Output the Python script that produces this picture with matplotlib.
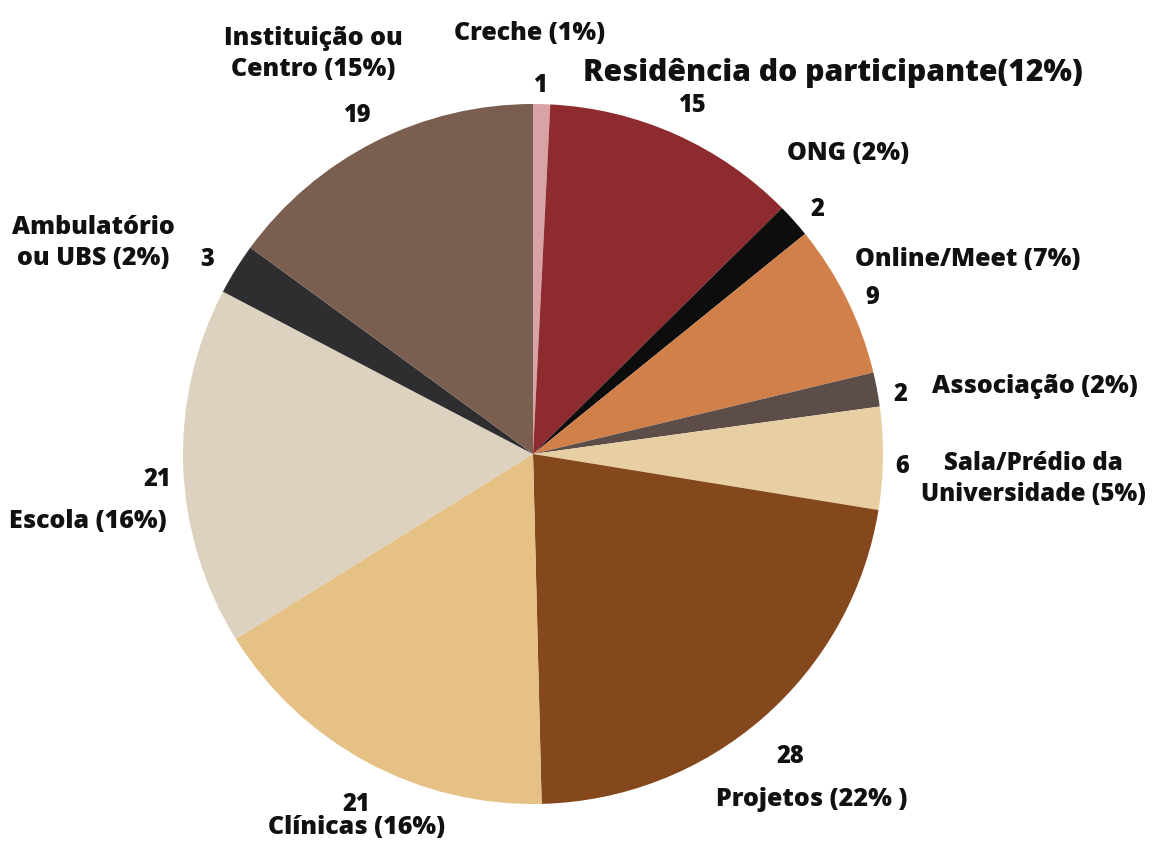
import matplotlib.pyplot as plt

# Data
labels = ['Creche (1%)', 'Residência do participante(12%)', 'ONG (2%)', 'Online/Meet (7%)',
          'Associação (2%)', 'Sala/Prédio da\nUniversidade (5%)', 'Projetos (22% )',
          'Clínicas (16%)', 'Escola (16%)', 'Ambulatório\nou UBS (2%)',
          'Instituição ou\nCentro (15%)']
counts = [1, 15, 2, 9, 2, 6, 28, 21, 21, 3, 19]
colors = ['#D9A3A5', '#8E2B2E', '#0D0D0D', '#D2804A', '#5C4D48', '#E8CFA3',
          '#85481D', '#E6C186', '#DDD1C0', '#2E2D2F', '#7A5F50']

# label placement in image pixels (x, y from top)
name_pos = [(530, 33), (833, 73), (848, 153), (968, 260), (1035, 387), (1033, 479),
            (812, 800), (357, 828), (88, 522), (93, 243), (313, 54)]
count_pos = [(540, 85), (692, 105), (817, 210), (872, 298), (900, 395), (902, 467),
             (790, 757), (356, 805), (157, 480), (207, 260), (357, 115)]

W, H = 1152, 845
fig = plt.figure(figsize=(W / 100, H / 100), dpi=100)
ax = fig.add_axes([0, 0, 1, 1])

ax.pie(counts, colors=colors, startangle=90, counterclock=False,
       center=(533, H - 455), radius=350, wedgeprops={'linewidth': 0})

ax.set_xlim(0, W)
ax.set_ylim(0, H)
ax.set_aspect('equal')
ax.axis('off')

font = dict(family=['Open Sans', 'DejaVu Sans'], fontweight='black', color='#111111',
            ha='center', va='center')
for i, lab in enumerate(labels):
    x, y = name_pos[i]
    size = 21.7 if i == 1 else 18
    if i == 5:
        size = 17.3
    ax.text(x, H - y, lab, fontsize=size, linespacing=1.3, **font)
    cx, cy = count_pos[i]
    ax.text(cx, H - cy, str(counts[i]), fontsize=17, **font)

plt.savefig('out.png', dpi=100, facecolor='white')
